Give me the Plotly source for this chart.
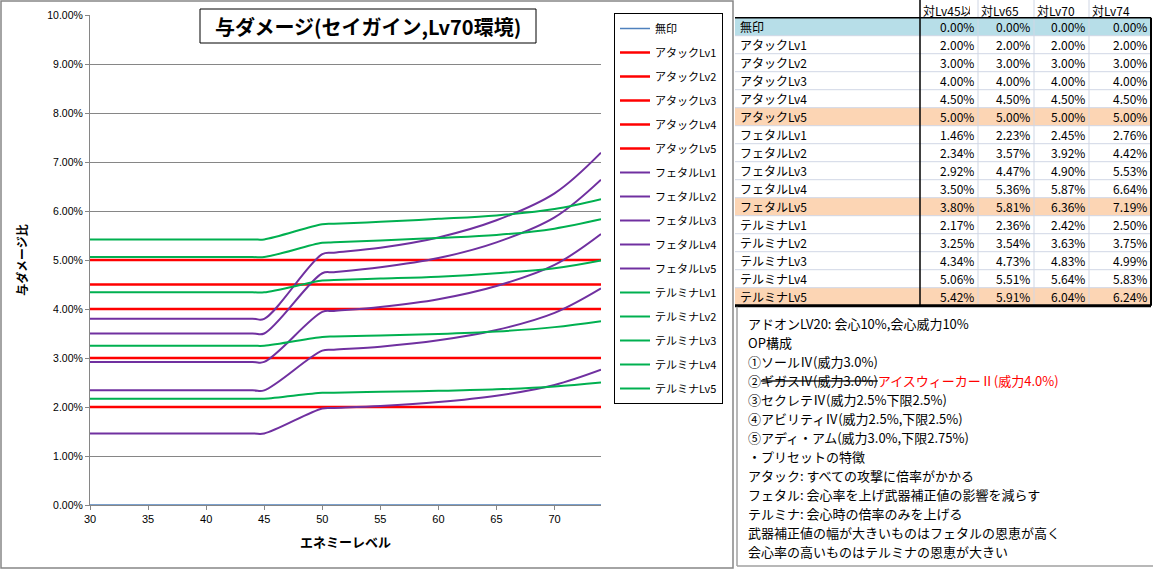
import plotly.graph_objects as go

W, H = 1153, 569

# ---------------- data ----------------
levels = [30, 44, 45, 50, 51, 55, 60, 65, 70, 74]
flat_x = [30, 74]

mujirushi = [0.0, 0.0]
attack_names = ["アタックLv1", "アタックLv2", "アタックLv3", "アタックLv4", "アタックLv5"]
attack_vals = [2.00, 3.00, 4.00, 4.50, 5.00]

fetal_names = ["フェタルLv1", "フェタルLv2", "フェタルLv3", "フェタルLv4", "フェタルLv5"]
fetal_lv1 = [1.46, 1.46, 1.46, 1.97, 1.98, 2.02, 2.10, 2.23, 2.45, 2.76]
fetal_lv2 = [2.34, 2.34, 2.34, 3.15, 3.17, 3.23, 3.36, 3.57, 3.92, 4.42]
fetal_lv3 = [2.92, 2.92, 2.92, 3.94, 3.96, 4.04, 4.20, 4.47, 4.90, 5.53]
fetal_lv4 = [3.50, 3.50, 3.50, 4.73, 4.75, 4.85, 5.04, 5.36, 5.87, 6.64]
fetal_lv5 = [3.80, 3.80, 3.80, 5.12, 5.15, 5.25, 5.46, 5.81, 6.36, 7.19]

telmina_names = ["テルミナLv1", "テルミナLv2", "テルミナLv3", "テルミナLv4", "テルミナLv5"]
telmina_lv1 = [2.17, 2.17, 2.17, 2.29, 2.29, 2.31, 2.33, 2.36, 2.42, 2.50]
telmina_lv2 = [3.25, 3.25, 3.25, 3.43, 3.44, 3.46, 3.49, 3.54, 3.63, 3.75]
telmina_lv3 = [4.34, 4.34, 4.34, 4.58, 4.59, 4.62, 4.66, 4.73, 4.83, 4.99]
telmina_lv4 = [5.06, 5.06, 5.06, 5.35, 5.36, 5.40, 5.45, 5.51, 5.64, 5.83]
telmina_lv5 = [5.42, 5.42, 5.42, 5.73, 5.74, 5.78, 5.84, 5.91, 6.04, 6.24]

# table
table_headers = ["対Lv45以下", "対Lv65", "対Lv70", "対Lv74"]
table_names = ["無印"] + attack_names + fetal_names + telmina_names
col_lv45 = [0.00, 2.00, 3.00, 4.00, 4.50, 5.00, 1.46, 2.34, 2.92, 3.50, 3.80, 2.17, 3.25, 4.34, 5.06, 5.42]
col_lv65 = [0.00, 2.00, 3.00, 4.00, 4.50, 5.00, 2.23, 3.57, 4.47, 5.36, 5.81, 2.36, 3.54, 4.73, 5.51, 5.91]
col_lv70 = [0.00, 2.00, 3.00, 4.00, 4.50, 5.00, 2.45, 3.92, 4.90, 5.87, 6.36, 2.42, 3.63, 4.83, 5.64, 6.04]
col_lv74 = [0.00, 2.00, 3.00, 4.00, 4.50, 5.00, 2.76, 4.42, 5.53, 6.64, 7.19, 2.50, 3.75, 4.99, 5.83, 6.24]

notes = [
    "アドオンLV20: 会心10%,会心威力10%",
    "OP構成",
    "①ソールⅣ(威力3.0%)",
    "②<s>ギガスⅣ(威力3.0%)</s><span style='color:#ff0000'>アイスウィーカーⅡ(威力4.0%)</span>",
    "③セクレテⅣ(威力2.5%下限2.5%)",
    "④アビリティⅣ(威力2.5%,下限2.5%)",
    "⑤アディ・アム(威力3.0%,下限2.75%)",
    "・プリセットの特徴",
    "アタック: すべての攻撃に倍率がかかる",
    "フェタル: 会心率を上げ武器補正値の影響を減らす",
    "テルミナ: 会心時の倍率のみを上げる",
    "武器補正値の幅が大きいものはフェタルの恩恵が高く",
    "会心率の高いものはテルミナの恩恵が大きい",
]

# ---------------- style ----------------
JP = "Noto Sans CJK JP, sans-serif"
RED, PURPLE, GREEN, BLUE = "#ff0000", "#7030a0", "#00b050", "#4f81bd"
GRID = "#868686"


def fx(p):
    return p / W


def fy(p):
    return 1 - p / H


fig = go.Figure()
g = 0
fig.add_trace(go.Scatter(x=flat_x, y=mujirushi, mode="lines", name="無印",
                         line=dict(color=BLUE, width=1.5), legendgroup=f"g{g}", cliponaxis=False))
for n, v in zip(attack_names, attack_vals):
    g += 1
    fig.add_trace(go.Scatter(x=flat_x, y=[v, v], mode="lines", name=n,
                             line=dict(color=RED, width=2.5), legendgroup=f"g{g}"))
for n, ys in zip(fetal_names, [fetal_lv1, fetal_lv2, fetal_lv3, fetal_lv4, fetal_lv5]):
    g += 1
    fig.add_trace(go.Scatter(x=levels, y=ys, mode="lines", name=n,
                             line=dict(color=PURPLE, width=2, shape="spline", smoothing=1),
                             legendgroup=f"g{g}"))
for n, ys in zip(telmina_names, [telmina_lv1, telmina_lv2, telmina_lv3, telmina_lv4, telmina_lv5]):
    g += 1
    fig.add_trace(go.Scatter(x=levels, y=ys, mode="lines", name=n,
                             line=dict(color=GREEN, width=2, shape="spline", smoothing=1),
                             legendgroup=f"g{g}"))

shapes = []
annotations = []

# chart area border
shapes.append(dict(type="rect", xref="paper", yref="paper", x0=fx(1), x1=fx(733), y0=fy(568), y1=fy(1),
                   line=dict(color="#868686", width=1.5), layer="below"))
# title box
shapes.append(dict(type="rect", xref="paper", yref="paper", x0=fx(200), x1=fx(536), y0=fy(43), y1=fy(9),
                   line=dict(color="black", width=1), fillcolor="white", layer="above"))
annotations.append(dict(text="<b>与ダメージ(セイガイン,Lv70環境)</b>", xref="paper", yref="paper",
                        x=fx(368), y=fy(26.5), xanchor="center", yanchor="middle", showarrow=False,
                        font=dict(family=JP, size=20, color="black")))

# ---------------- table ----------------
TL, TR = 735, 1151
name_right = 920
col_edges = [920, 978, 1034, 1089, 1151]
row0 = 17.7
rh = 18.0
nrows = len(table_names)
tbottom = row0 + rh * nrows

for i, n in enumerate(table_names):
    fill = None
    if i == 0:
        fill = "#b7dee8"
    elif n.endswith("Lv5"):
        fill = "#fcd5b4"
    if fill:
        shapes.append(dict(type="rect", xref="paper", yref="paper", x0=fx(TL), x1=fx(TR),
                           y0=fy(row0 + rh * (i + 1)), y1=fy(row0 + rh * i),
                           line=dict(width=0), fillcolor=fill, layer="below"))
for i in range(1, nrows):
    yy = row0 + rh * i
    shapes.append(dict(type="line", xref="paper", yref="paper", x0=fx(TL), x1=fx(TR), y0=fy(yy), y1=fy(yy),
                       line=dict(color="#d0d7e5", width=1)))
for xx in col_edges[1:-1]:
    shapes.append(dict(type="line", xref="paper", yref="paper", x0=fx(xx), x1=fx(xx), y0=fy(0), y1=fy(tbottom),
                       line=dict(color="#d0d7e5", width=1)))
shapes.append(dict(type="line", xref="paper", yref="paper", x0=fx(name_right), x1=fx(name_right),
                   y0=fy(0), y1=fy(tbottom), line=dict(color="black", width=1.5)))
shapes.append(dict(type="line", xref="paper", yref="paper", x0=fx(TL), x1=fx(TR),
                   y0=fy(row0), y1=fy(row0), line=dict(color="black", width=1.5)))
shapes.append(dict(type="line", xref="paper", yref="paper", x0=fx(TR), x1=fx(TR),
                   y0=fy(row0), y1=fy(tbottom), line=dict(color="black", width=2)))
shapes.append(dict(type="line", xref="paper", yref="paper", x0=fx(TL), x1=fx(TR),
                   y0=fy(tbottom), y1=fy(tbottom), line=dict(color="black", width=3)))

TF = dict(family=JP, size=12, color="black")
header_widths = [47, 54, 53, 60]
for j, htxt in enumerate(table_headers):
    annotations.append(dict(text=htxt, xref="paper", yref="paper", x=fx(col_edges[j] + 1), y=fy(row0 / 2 + 1.5),
                            xanchor="left", yanchor="middle", showarrow=False, font=TF,
                            width=header_widths[j], align="left"))
cols = [col_lv45, col_lv65, col_lv70, col_lv74]
for i, n in enumerate(table_names):
    yc = fy(row0 + rh * (i + 0.5))
    annotations.append(dict(text=n, xref="paper", yref="paper", x=fx(738), y=yc,
                            xanchor="left", yanchor="middle", showarrow=False, font=TF))
    for j, col in enumerate(cols):
        annotations.append(dict(text=f"{col[i]:.2f}%", xref="paper", yref="paper", x=fx(col_edges[j + 1] - 2),
                                y=yc, xanchor="right", yanchor="middle", showarrow=False, font=TF))

# ---------------- notes box ----------------
shapes.append(dict(type="line", xref="paper", yref="paper", x0=fx(737), x1=fx(737), y0=fy(tbottom + 1), y1=fy(566),
                   line=dict(color="#a0a0a0", width=1.5)))
shapes.append(dict(type="line", xref="paper", yref="paper", x0=fx(737), x1=fx(1153), y0=fy(566), y1=fy(566),
                   line=dict(color="#a0a0a0", width=1.5)))
for i, t in enumerate(notes):
    annotations.append(dict(text=t, xref="paper", yref="paper", x=fx(746), y=fy(323.3 + 19.03 * i),
                            xanchor="left", yanchor="middle", showarrow=False,
                            font=dict(family=JP, size=13, color="black")))

fig.update_layout(
    width=W, height=H, autosize=False,
    margin=dict(l=0, r=0, t=0, b=0, pad=0, autoexpand=False),
    paper_bgcolor="white", plot_bgcolor="white",
    showlegend=True,
    legend=dict(x=fx(614), y=fy(13), xanchor="left", yanchor="top",
                bordercolor="black", borderwidth=1, bgcolor="white",
                font=dict(family=JP, size=11, color="black"),
                tracegroupgap=5, itemwidth=30, traceorder="grouped"),
    xaxis=dict(domain=[fx(90), fx(601)], range=[30, 74], dtick=5, tick0=30, automargin=False,
               showgrid=False, zeroline=False, showline=True, linecolor=GRID, linewidth=1,
               ticks="outside", ticklen=4, tickcolor=GRID,
               tickfont=dict(family="Liberation Sans, Arial", size=11, color="black"),
               title=dict(text="<b>エネミーレベル</b>", font=dict(family=JP, size=13, color="black"), standoff=13)),
    yaxis=dict(domain=[fy(505), fy(15)], range=[0, 10], dtick=1, tick0=0, automargin=False,
               ticksuffix="%", tickformat=".2f",
               showgrid=True, gridcolor=GRID, gridwidth=1, zeroline=False,
               showline=True, linecolor=GRID, linewidth=1,
               ticks="outside", ticklen=4, tickcolor=GRID,
               tickfont=dict(family="Liberation Sans, Arial", size=10.5, color="black"),
               title=dict(text="<b>与ダメージ比</b>", font=dict(family=JP, size=12, color="black"), standoff=17)),
    shapes=shapes,
    annotations=annotations,
)

fig.write_html("out.html", config={"displayModeBar": False},
               post_script="document.body.style.margin='0px';document.body.style.overflow='hidden';")
